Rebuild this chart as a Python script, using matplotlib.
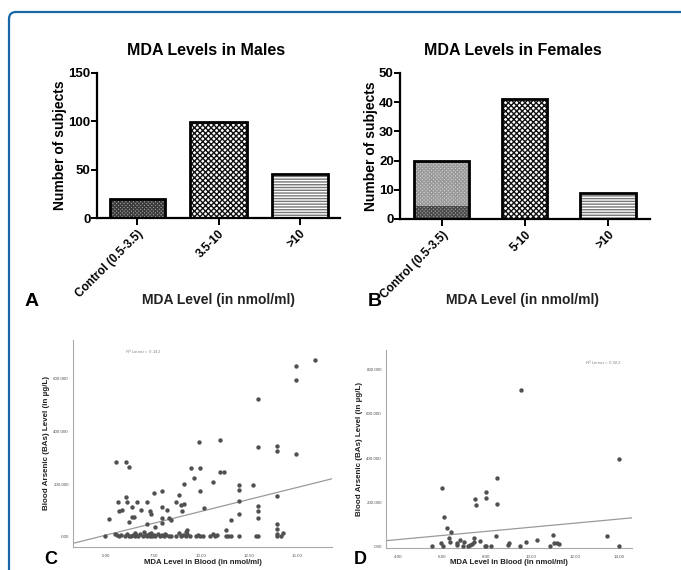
import matplotlib
matplotlib.use('Agg')
import matplotlib.pyplot as plt
from matplotlib.patches import FancyBboxPatch
from matplotlib.transforms import IdentityTransform
from matplotlib.ticker import FuncFormatter

plt.rcParams['font.family'] = ['Liberation Sans', 'DejaVu Sans']
plt.rcParams['hatch.linewidth'] = 1.0

# Bar charts (A, B)
males_labels = ['Control (0.5-3.5)', '3.5-10', '>10']
males_counts = [20, 99, 46]
females_labels = ['Control (0.5-3.5)', '5-10', '>10']
females_counts = [20, 41, 9]
female_control_dark = [4.5]  # darker band at the bottom of the female control bar

# Scatter C (males): MDA level vs blood arsenic
mda_c = [15.91, 14.92, 14.92, 12.94, 9.88, 10.94, 12.94, 13.93, 13.93, 14.92,
         5.52, 6.04, 6.22, 9.43, 9.93, 9.6, 10.94, 11.15, 10.59, 9.1,
         11.93, 11.93, 12.68, 9.93, 7.52, 7.93, 8.82, 13.93, 6.08, 6.11,
         5.64, 6.63, 7.17, 8.66, 11.93, 8.94, 9.06, 12.94, 12.94, 12.94,
         5.69, 5.85, 6.4, 6.82, 7.29, 7.93, 8.19, 8.96, 10.14, 5.17,
         6.37, 6.46, 6.2, 7.17, 7.38, 7.95, 7.95, 8.33, 8.42, 7.6,
         11.93, 11.55, 13.93, 13.93, 13.93, 14.24, 11.29, 9.17, 9.24,
         4.95, 5.47, 5.59, 5.69, 5.82, 5.99, 6.11, 6.22, 6.34, 6.42,
         6.51, 6.6, 6.68, 6.81, 6.94, 7.08, 7.15, 7.24, 7.29, 7.43,
         7.5, 7.6, 7.73, 7.81, 7.93, 8.04, 8.16, 8.3, 8.42, 8.65,
         8.94, 9.03, 9.17, 9.24, 9.38, 9.69, 9.81, 9.93, 10.07, 10.42,
         10.68, 10.8, 11.29, 11.38, 11.55, 11.93, 12.82, 12.94, 13.93, 14.12,
         6.55, 7.0, 7.35, 8.1, 8.8, 10.6]
bas_c = [671, 647, 594, 520, 361, 368, 340, 344, 324, 313,
         282, 282, 264, 260, 259, 222, 244, 246, 206, 200,
         198, 177, 195, 175, 167, 173, 158, 156, 152, 132,
         132, 132, 132, 132, 136, 121, 123, 118, 97, 73,
         99, 103, 113, 103, 99, 114, 103, 99, 108, 67,
         77, 75, 57, 49, 86, 73, 53, 73, 63, 37,
         85, 64, 49, 30, 10, 16, 28, 20, 28,
         3, 10, 6, 2, 8, 4, 12, 3, 5, 9,
         2, 7, 4, 10, 3, 6, 2, 12, 5, 3,
         8, 4, 10, 2, 6, 3, 9, 2, 5, 4,
         3, 7, 2, 10, 4, 3, 8, 2, 5, 3,
         2, 6, 4, 3, 2, 3, 2, 2, 3, 4,
         14, 18, 15, 12, 16, 11]
fit_c = [18.1, -84.0]  # slope, intercept of the linear fit
r2_c = '0.142'

# Scatter D (females)
mda_d = [9.58, 14.02, 6.0, 8.47, 7.99, 7.99, 7.47, 7.53, 8.47, 6.06,
         6.21, 6.38, 6.3, 6.36, 8.42, 11.0, 13.47, 10.27, 9.77, 9.02,
         8.98, 7.71, 7.42, 7.45, 6.79, 7.0, 6.65, 5.92, 5.52, 6.02,
         6.68, 7.26, 7.36, 7.18, 7.92, 8.0, 8.21, 9.53, 10.86, 11.05,
         11.2, 11.3, 14.02, 6.92]
bas_d = [709, 396, 267, 310, 246, 221, 215, 187, 194, 136,
         85, 66, 42, 21, 51, 54, 48, 31, 21, 19,
         7, 28, 40, 22, 33, 21, 18, 16, 3, 4,
         7, 10, 13, 3, 3, 6, 4, 6, 4, 18,
         18, 13, 4, 4]
fit_d = [9.23, -3.8]
r2_d = '0.022'

fig = plt.figure(figsize=(6.81, 5.7), dpi=100)

# rounded blue frame around the figure
frame = FancyBboxPatch((9, -20), 720, 578, boxstyle='round,pad=0,rounding_size=7',
                       transform=IdentityTransform(), fill=False,
                       edgecolor='#1a67a8', linewidth=1.6)
fig.add_artist(frame)


def bar_panel(rect, labels, counts, widths, hatches, faces, hatch_colors,
              ylim, yticks, title):
    ax = fig.add_axes(rect)
    pos = list(range(len(counts)))
    for x, h, w, hatch, fc, hc in zip(pos, counts, widths, hatches, faces, hatch_colors):
        ax.bar(x, h, w, color=fc, edgecolor=hc, hatch=hatch, linewidth=0)
    ax.set_xlim(-0.5, 2.5)
    ax.set_ylim(*ylim)
    ax.set_yticks(yticks)
    ax.set_xticks(pos)
    ax.set_xticklabels(labels, rotation=45, ha='right', rotation_mode='anchor',
                       fontsize=8.5, fontweight='bold')
    for lab in ax.get_yticklabels():
        lab.set_fontweight('bold')
        lab.set_fontsize(9.5)
    ax.spines['top'].set_visible(False)
    ax.spines['right'].set_visible(False)
    ax.spines['left'].set_linewidth(1.6)
    ax.spines['bottom'].set_linewidth(1.6)
    ax.tick_params(axis='y', width=1.4, length=4, pad=0.5)
    ax.tick_params(axis='x', width=1.4, length=5, pad=2)
    ax.set_ylabel('Number of subjects', fontsize=10, fontweight='bold', labelpad=1)
    ax.set_title(title, fontsize=11.5, fontweight='bold', pad=13, x=0.45)
    return ax


ax_a = bar_panel([0.1424, 0.6175, 0.357, 0.2545], males_labels, males_counts,
                 [0.68, 0.70, 0.69], ['xxxxxxxxx', 'xxxxxx', '------'],
                 ['#a8a8a8', 'white', 'white'],
                 ['#3a3a3a', '#111111', '#777777'], (0, 150), [0, 50, 100, 150],
                 'MDA Levels in Males')
ax_a.bar(range(3), males_counts, [0.68, 0.70, 0.69], fill=False,
         edgecolor='black', linewidth=2)

ax_b = bar_panel([0.5874, 0.6158, 0.367, 0.2562], females_labels, females_counts,
                 [0.66, 0.54, 0.67], ['xxxxxxxxx', 'xxxxxx', '------'],
                 ['#d6d6d6', 'white', 'white'],
                 ['#9a9a9a', '#111111', '#777777'], (0, 50), [0, 10, 20, 30, 40, 50],
                 'MDA Levels in Females')
ax_b.bar([0], female_control_dark, 0.66, color='#a8a8a8', edgecolor='#4a4a4a',
         hatch='xxxxxxxxx', linewidth=0)
ax_b.bar(range(3), females_counts, [0.66, 0.54, 0.67], fill=False,
         edgecolor='black', linewidth=2)

for xc in (218, 522):
    fig.text(xc / 681, 1 - 300 / 570, 'MDA Level (in nmol/ml)', ha='center',
             va='center', fontsize=10, fontweight='bold', color='#222222')
fig.text(25 / 681, 1 - 301 / 570, 'A', fontsize=14, fontweight='bold', va='center')
fig.text(368 / 681, 1 - 301 / 570, 'B', fontsize=14, fontweight='bold', va='center')


def spss_y(v, pos):
    s = '%.3f' % v
    return s[1:] if s.startswith('0') else s


def scatter_panel(rect, mda, bas, fit, r2, xlim, ylim, xticks, yticks, r2_xy,
                  letter, letter_x, xlabel_y):
    ax = fig.add_axes(rect)
    ax.scatter(mda, bas, s=10, color='#505050', linewidths=0, zorder=3)
    xs = [xlim[0], xlim[1]]
    ax.plot(xs, [fit[0] * v + fit[1] for v in xs], color='#9a9a9a', linewidth=0.9)
    ax.set_xlim(*xlim)
    ax.set_ylim(*ylim)
    ax.set_xticks(xticks)
    ax.set_yticks(yticks)
    ax.xaxis.set_major_formatter(FuncFormatter(lambda v, p: '%.2f' % v))
    ax.yaxis.set_major_formatter(FuncFormatter(spss_y))
    ax.tick_params(axis='both', labelsize=3.2, colors='#555555', length=0)
    ax.tick_params(axis='x', pad=5)
    ax.tick_params(axis='y', pad=3)
    for side in ('top', 'right'):
        ax.spines[side].set_visible(False)
    for side in ('left', 'bottom'):
        ax.spines[side].set_color('#aaaaaa')
        ax.spines[side].set_linewidth(0.8)
    ax.set_xlabel('MDA Level in Blood (in nmol/ml)', fontsize=5.6, color='#222222',
                  fontweight='bold', va='center')
    ax.xaxis.set_label_coords(0.5, xlabel_y)
    ax.set_ylabel('Blood Arsenic (BAs) Level (in \u00b5g/L)', fontsize=5.8,
                  color='#222222', fontweight='bold', labelpad=2)
    ax.text(r2_xy[0], r2_xy[1], 'R$^2$ Linear = ' + r2, transform=ax.transAxes,
            fontsize=3.2, color='#888888', ha='left', va='center')
    fig.text(letter_x / 681, 1 - 560 / 570, letter, fontsize=13,
             fontweight='bold', va='center')
    return ax


scatter_panel([0.1072, 0.0404, 0.3803, 0.3631], mda_c, bas_c, fit_c, r2_c,
              (3.3, 16.8), (-38, 745), [5, 7.5, 10, 12.5, 15],
              [0, 200, 400, 600], (0.2, 0.94), 'C', 44, -0.075)
scatter_panel([0.5668, 0.0386, 0.3612, 0.3474], mda_d, bas_d, fit_d, r2_d,
              (3.44, 14.6), (-5, 888), [4, 6, 8, 10, 12, 14],
              [0, 200, 400, 600, 800], (0.81, 0.93), 'D', 354, -0.074)

fig.savefig('out.png', dpi=100)
